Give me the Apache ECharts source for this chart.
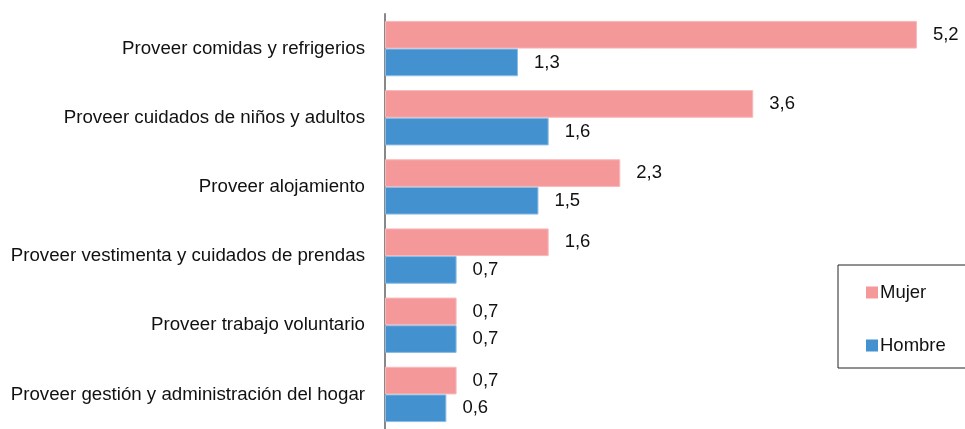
<!DOCTYPE html>
<html>
<head>
<meta charset="utf-8">
<script src="https://cdn.jsdelivr.net/npm/echarts@6/dist/echarts.min.js"></script>
<style>
  html, body { margin: 0; padding: 0; background: #fff; }
  #chart { width: 965px; height: 429px; }
</style>
</head>
<body>
<div id="chart"></div>
<script>
// categorias (de arriba hacia abajo)
const categories = [
  "Proveer comidas y refrigerios",
  "Proveer cuidados de niños y adultos",
  "Proveer alojamiento",
  "Proveer vestimenta y cuidados de prendas",
  "Proveer trabajo voluntario",
  "Proveer gestión y administración del hogar"
];
const mujer = [5.2, 3.6, 2.3, 1.6, 0.7, 0.7];
const hombre = [1.3, 1.6, 1.5, 0.7, 0.7, 0.6];

const font = "Liberation Sans";
const fmt = (p) => p.value.toFixed(1).replace(".", ",");

const chart = echarts.init(document.getElementById("chart"));
chart.setOption({
  animation: false,
  textStyle: { fontFamily: font },
  grid: { left: 385, top: 14, width: 580, height: 420 },
  legend: {
    orient: "vertical",
    left: 838,
    top: 265,
    padding: [18, 60, 13, 28],
    itemGap: 34,
    itemWidth: 12,
    itemHeight: 12,
    icon: "rect",
    itemStyle: { borderWidth: 0 },
    borderColor: "#222",
    borderWidth: 1,
    textStyle: { fontFamily: font, fontSize: 18.5, lineHeight: 19, color: "#111", padding: [0, 0, 0, -3] },
    data: ["Mujer", "Hombre"]
  },
  xAxis: {
    type: "value",
    min: 0,
    max: 5.67,
    show: false
  },
  yAxis: {
    type: "category",
    inverse: true,
    data: categories,
    axisLine: { show: true, lineStyle: { color: "#888", width: 2 } },
    axisTick: { show: false },
    axisLabel: { fontFamily: font, fontSize: 18.7, color: "#111", margin: 20 }
  },
  series: [
    {
      name: "Mujer",
      type: "bar",
      data: mujer,
      barGap: "0%",
      barCategoryGap: "20%",
      itemStyle: { color: "#F4989A", borderColor: "#F8B8BA", borderWidth: 1 },
      label: { show: true, position: "right", distance: 16, formatter: fmt,
               fontFamily: font, fontSize: 18.5, color: "#111" }
    },
    {
      name: "Hombre",
      type: "bar",
      data: hombre,
      barGap: "0%",
      barCategoryGap: "20%",
      itemStyle: { color: "#4392CF", borderColor: "#8CBCE4", borderWidth: 1 },
      label: { show: true, position: "right", distance: 16, formatter: fmt,
               fontFamily: font, fontSize: 18.5, color: "#111" }
    }
  ]
});
</script>
</body>
</html>
